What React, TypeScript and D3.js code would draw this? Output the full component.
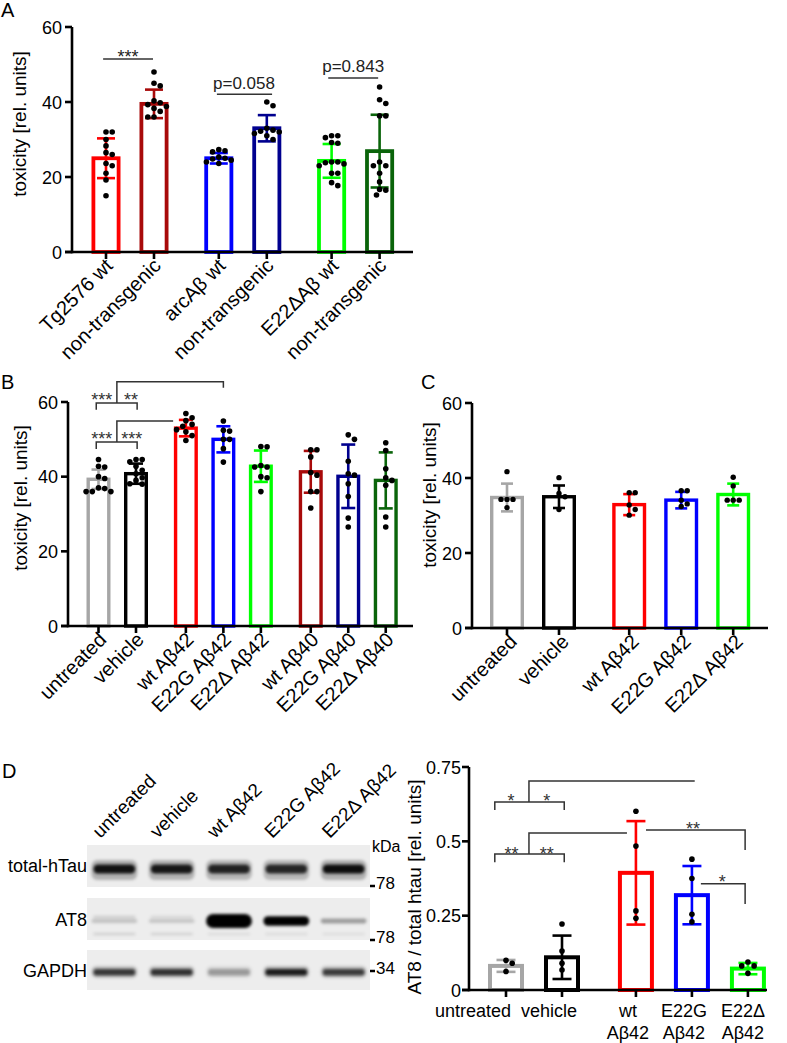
import React from 'react';
import * as d3 from 'd3';

const FONT = "'Liberation Sans', Arial, Helvetica, sans-serif";
const W = 787, H = 1043;

// ---------------- Panel A data ----------------
const catsA = ['Tg2576 wt', 'non-transgenic', 'arcAβ wt', 'non-transgenic', 'E22ΔAβ wt', 'non-transgenic'];
const groupsA = [0, 0, 1, 1, 2, 2];
const colorsA = ['#ff0000', '#a80a0a', '#0000ff', '#00008f', '#00ff00', '#0a640a'];
const meansA = [25.0, 39.5, 25.0, 33.0, 24.3, 26.9];
const sdsA = [5.3, 3.8, 1.4, 3.5, 4.5, 9.7];
const pointsA = [
  [32, 32, 30, 28.3, 26.5, 26, 23.6, 23, 21, 19.2, 15],
  [48, 45, 44.3, 40.3, 39.8, 39.3, 38.8, 38.3, 37.5, 36, 36],
  [27.3, 27, 26.7, 25.3, 25, 24.8, 24.5, 24, 23.6],
  [40, 39, 33, 32.5, 32.2, 32, 31.6, 31, 30],
  [31, 31, 30.5, 29.2, 29, 24, 24, 23.8, 23.5, 23, 21, 21, 18.5, 17.7],
  [44, 40.6, 39.6, 36.3, 36.3, 24, 23, 23, 21, 18.7, 16.7, 16.5, 15.2],
];
const yTicksA = [0, 20, 40, 60];
const sigLinesA = [
  { from: -0.06, to: 0.98, y: 51.5, label: '***', lx: 0.46, ly: 53.1, star: true },
  { from: 2.31, to: 3.46, y: 42.1, label: 'p=0.058', lx: 2.875, ly: 43.5, star: false },
  { from: 4.63, to: 5.67, y: 46.4, label: 'p=0.843', lx: 5.15, ly: 48.0, star: false },
];

// ---------------- Panel B data ----------------
const catsB = ['untreated', 'vehicle', 'wt Aβ42', 'E22G Aβ42', 'E22Δ Aβ42', 'wt Aβ40', 'E22G Aβ40', 'E22Δ Aβ40'];
const groupsB = [0, 0, 1, 1, 1, 2, 2, 2];
const colorsB = ['#a6a6a6', '#000000', '#ff0000', '#0000ff', '#00ff00', '#a80a0a', '#00008f', '#0a640a'];
const meansB = [39.3, 40.8, 53.0, 50.0, 42.8, 41.3, 40.1, 39.0];
const sdsB = [2.6, 2.7, 2.2, 3.5, 4.2, 5.6, 8.5, 7.5];
const pointsB = [
  [44.6, 42.8, 42.6, 40, 39.5, 37, 36.8, 36, 36, 36],
  [44.6, 44.6, 44, 42.8, 41.7, 40.8, 39.7, 39, 38.1, 38],
  [56.9, 55.8, 55, 54, 53.5, 52.6, 52, 51, 49.7],
  [54.9, 52.4, 52.2, 50, 50, 47.5, 43.9],
  [48.1, 48, 43, 42.6, 42.6, 40, 39.7, 36],
  [47.2, 47.2, 45.3, 41.1, 40.4, 36, 36, 31.6],
  [51.2, 50, 44.1, 40.8, 40.4, 38.1, 34.7, 28.9, 26.5],
  [49.1, 47, 42.1, 39.7, 39, 37.7, 29.2, 26.5],
];
const bracketsB: [number, number][][] = [
  [[-0.06, 57.9], [-0.06, 59.7], [1.03, 59.7], [1.03, 57.9]],
  [[0.49, 59.7], [0.49, 65.4], [3.33, 65.4], [3.33, 63.8]],
  [[-0.06, 47.4], [-0.06, 49.3], [1.03, 49.3], [1.03, 47.4]],
  [[0.49, 49.3], [0.49, 54.9], [1.99, 54.9]],
];
const starsB = [
  { x: 0.09, y: 61.6, t: '***' },
  { x: 0.87, y: 61.6, t: '**' },
  { x: 0.09, y: 51.2, t: '***' },
  { x: 0.89, y: 51.2, t: '***' },
];

// ---------------- Panel C data ----------------
const catsC = ['untreated', 'vehicle', 'wt Aβ42', 'E22G Aβ42', 'E22Δ Aβ42'];
const groupsC = [0, 0, 1, 1, 1];
const colorsC = ['#a6a6a6', '#000000', '#ff0000', '#0000ff', '#00ff00'];
const meansC = [34.8, 35.0, 32.9, 34.1, 35.6];
const sdsC = [3.7, 3.0, 2.8, 2.2, 2.9];
const pointsC = [
  [41.7, 34.3, 34.3, 34.3, 32.1],
  [40.1, 35.9, 35, 31.6],
  [36.1, 36.1, 32.8, 31.6, 30.1],
  [36.6, 36.6, 34.1, 33.1, 32.4],
  [40.2, 37.9, 34.1, 34.1, 34.1],
];

// ---------------- Panel D data ----------------
const catsD = ['untreated', 'vehicle', 'wt Aβ42', 'E22G Aβ42', 'E22Δ Aβ42'];
const labelLinesD = [['untreated'], ['vehicle'], ['wt', 'Aβ42'], ['E22G', 'Aβ42'], ['E22Δ', 'Aβ42']];
const groupsD = [0, 0, 1, 1, 1];
const colorsD = ['#a6a6a6', '#000000', '#ff0000', '#0000ff', '#00ff00'];
const meansD = [0.081, 0.11, 0.394, 0.319, 0.072];
const sdsD = [0.02, 0.073, 0.174, 0.098, 0.019];
const pointsD = [
  [0.1, 0.09, 0.062],
  [0.222, 0.131, 0.09, 0.067],
  [0.601, 0.484, 0.266, 0.241],
  [0.44, 0.375, 0.255, 0.229],
  [0.094, 0.081, 0.081, 0.056],
];
const yTicksD = [0, 0.25, 0.5, 0.75];
const bracketsD: [number, number][][] = [
  [[-0.2, 0.605], [-0.2, 0.632], [1.04, 0.632], [1.04, 0.605]],
  [[0.41, 0.632], [0.41, 0.703], [3.37, 0.703]],
  [[-0.2, 0.43], [-0.2, 0.457], [1.04, 0.457], [1.04, 0.43]],
  [[0.41, 0.457], [0.41, 0.528], [2.16, 0.528]],
  [[2.5, 0.538], [4.27, 0.538], [4.27, 0.471]],
  [[3.48, 0.357], [4.27, 0.357], [4.27, 0.289]],
];
const starsD = [
  { x: 0.09, y: 0.649, t: '*' },
  { x: 0.73, y: 0.649, t: '*' },
  { x: 0.1, y: 0.471, t: '**' },
  { x: 0.73, y: 0.471, t: '**' },
  { x: 3.34, y: 0.555, t: '**' },
  { x: 3.86, y: 0.377, t: '*' },
];

// ---------------- Blot data ----------------
const blotLanes = ['untreated', 'vehicle', 'wt Aβ42', 'E22G Aβ42', 'E22Δ Aβ42'];
const blotRows = ['total-hTau', 'AT8', 'GAPDH'];
const tauBand = [0.9, 0.88, 0.82, 0.8, 0.93];
const at8Band = [0.09, 0.08, 1.0, 0.6, 0.17];
const at8Upper = [0.14, 0.1, 0.0, 0.0, 0.0];
const at8Lower = [0.13, 0.12, 0.08, 0.08, 0.07];
const gapdhBand = [0.72, 0.75, 0.3, 0.85, 0.7];
const blotMarkers = ['78', '78', '34'];

// -------------------------------------------------
function swarm(vals: number[], y: (v: number) => number, d: number): number[] {
  const placed: { x: number; y: number }[] = [];
  const order = vals.map((_, i) => i).sort((a, b) => vals[b] - vals[a]);
  const xs = new Array(vals.length).fill(0);
  for (const i of order) {
    const py = y(vals[i]);
    for (let k = 0; k < 60; k++) {
      const off = k === 0 ? 0 : (k % 2 ? 1 : -1) * Math.ceil(k / 2) * d * 0.5;
      if (placed.every(p => Math.hypot(p.x - off, p.y - py) >= d - 0.01)) {
        xs[i] = off;
        placed.push({ x: off, y: py });
        break;
      }
    }
  }
  return xs;
}

type PanelCfg = {
  cats: string[]; groups: number[]; colors: string[]; means: number[]; sds: number[]; points: number[][];
  yMax: number; yTicks: number[];
  axisX: number; xEnd: number; y0: number; yTop: number;
  x0: number; step: number; gap: number;
  barW: number; sw: number; capW: number; dotR: number;
  title: string; titleX: number; titleY: number;
  letter?: string; letterX?: number; letterY?: number;
  labelMode: 'rot' | 'flat';
  ldx?: number; ldy?: number;
  flatLines?: string[][]; flatDx?: number[];
  brackets?: [number, number][][];
  stars?: { x: number; y: number; t: string }[];
  sigLines?: typeof sigLinesA;
  tickLabelGap?: number;
};

function BarPanel({ c }: { c: PanelCfg }) {
  const y = d3.scaleLinear().domain([0, c.yMax]).range([c.y0, c.yTop]);
  const x = d3.scaleLinear().domain([0, 1]).range([c.x0, c.x0 + c.step]);
  const slots = c.cats.map((_, i) => i + c.groups[i] * c.gap);
  const line = d3.line<[number, number]>().x(d => x(d[0])).y(d => y(d[1]));
  const fs = 18;
  return (
    <g>
      {c.letter && <text x={c.letterX} y={c.letterY} fontSize={20}>{c.letter}</text>}
      {c.cats.map((cat, i) => {
        const cx = x(slots[i]);
        const inner = c.barW - c.sw;
        const top = y(c.means[i]);
        const lo = y(c.means[i] - c.sds[i]);
        const hi = y(c.means[i] + c.sds[i]);
        const xs = swarm(c.points[i], y, c.dotR * 2 + 0.6);
        return (
          <g key={i}>
            <rect x={cx - inner / 2} y={top} width={inner} height={c.y0 - top} fill="#fff" stroke={c.colors[i]} strokeWidth={c.sw} />
            <g stroke={c.colors[i]} strokeWidth={2.6}>
              <line x1={cx} x2={cx} y1={hi} y2={lo} />
              <line x1={cx - c.capW / 2} x2={cx + c.capW / 2} y1={hi} y2={hi} />
              <line x1={cx - c.capW / 2} x2={cx + c.capW / 2} y1={lo} y2={lo} />
            </g>
            {c.points[i].map((v, j) => (
              <circle key={j} cx={cx + xs[j]} cy={y(v)} r={c.dotR} fill="#000" />
            ))}
          </g>
        );
      })}
      <g stroke="#000" strokeWidth={2.6}>
        <line x1={c.axisX} x2={c.axisX} y1={c.y0 + 1.3} y2={y(c.yMax)} />
        <line x1={c.axisX - 7} x2={c.xEnd} y1={c.y0} y2={c.y0} />
        {c.yTicks.map(t => (
          <line key={t} x1={c.axisX - 7} x2={c.axisX} y1={y(t)} y2={y(t)} />
        ))}
        {c.cats.map((_, i) => (
          <line key={i} x1={x(slots[i])} x2={x(slots[i])} y1={c.y0} y2={c.y0 + 7} />
        ))}
      </g>
      {c.yTicks.map(t => (
        <text key={t} x={c.axisX - (c.tickLabelGap ?? 10)} y={y(t) + 6.5} fontSize={fs} textAnchor="end">{String(t)}</text>
      ))}
      <text transform={`translate(${c.titleX},${c.titleY}) rotate(-90)`} fontSize={19} textAnchor="middle">{c.title}</text>
      {c.labelMode === 'rot'
        ? c.cats.map((cat, i) => (
            <text key={i} transform={`translate(${x(slots[i]) + (c.ldx ?? 8)},${c.y0 + (c.ldy ?? 16)}) rotate(-45)`} fontSize={20} textAnchor="end">{cat}</text>
          ))
        : c.flatLines!.map((lines, i) => (
            <text key={i} x={x(slots[i]) + (c.flatDx ? c.flatDx[i] : 0)} y={c.y0 + 27} fontSize={fs} textAnchor="middle">
              {lines.map((l, k) => (
                <tspan key={k} x={x(slots[i]) + (c.flatDx ? c.flatDx[i] : 0)} dy={k === 0 ? 0 : 22}>{l}</tspan>
              ))}
            </text>
          ))}
      {c.brackets && c.brackets.map((b, i) => (
        <path key={i} d={line(b) || ''} fill="none" stroke="#333" strokeWidth={1.5} />
      ))}
      {c.stars && c.stars.map((s, i) => (
        <text key={i} x={x(s.x)} y={y(s.y) + 10} fontSize={18} textAnchor="middle" fill="#333">{s.t}</text>
      ))}
      {c.sigLines && c.sigLines.map((s, i) => (
        <g key={i}>
          <line x1={x(s.from)} x2={x(s.to)} y1={y(s.y)} y2={y(s.y)} stroke="#333" strokeWidth={1.5} />
          <text x={x(s.lx)} y={s.star ? y(s.ly) + 10 : y(s.ly)} fontSize={s.star ? 18 : 17} textAnchor="middle" fill="#222">{s.label}</text>
        </g>
      ))}
    </g>
  );
}

function Blot() {
  const lx = d3.scaleBand().domain(blotLanes).range([88, 370]).paddingInner(0.2).paddingOuter(0.06);
  const strips = [
    { y: 845, h: 42 },
    { y: 898, h: 42 },
    { y: 950, h: 40 },
  ];
  const rowBase = [872, 926, 977];
  const markerY = [889, 943, 974];
  return (
    <g>
      <text x={2} y={778} fontSize={20}>D</text>
      {strips.map((s, i) => (
        <rect key={i} x={87} y={s.y} width={283} height={s.h} fill="#ededed" />
      ))}
      <g filter="url(#blur)">
        {blotLanes.map((ln, i) => {
          const bx = lx(ln)!;
          const bw = lx.bandwidth();
          const a = at8Band[i];
          const th = 3 + 11 * a;
          return (
            <g key={ln}>
              <rect x={bx} y={860} width={bw} height={20} rx={6} fill="#000" opacity={tauBand[i] * 0.28} />
              <rect x={bx + 2} y={864.5} width={bw - 4} height={9} rx={4.5} fill="#000" opacity={tauBand[i]} />
              <rect x={bx + 2} y={917 - 1.2} width={bw - 4} height={2.4} fill="#000" opacity={at8Upper[i]} />
              <rect x={bx} y={921 - th / 2} width={bw} height={th} rx={th / 2} fill="#000" opacity={Math.min(1, a * 2)} />
              <rect x={bx + 2} y={934 - 1.2} width={bw - 4} height={2.4} fill="#000" opacity={at8Lower[i]} />
              <rect x={bx} y={966} width={bw} height={12} rx={5} fill="#000" opacity={gapdhBand[i] * 0.25} />
              <rect x={bx + 2} y={969} width={bw - 4} height={6.5} rx={3} fill="#000" opacity={gapdhBand[i]} />
            </g>
          );
        })}
      </g>
      {blotLanes.map(ln => (
        <text key={ln} transform={`translate(${lx(ln)! + lx.bandwidth() / 2 - 14},839) rotate(-45)`} fontSize={19}>{ln}</text>
      ))}
      {blotRows.map((r, i) => (
        <text key={r} x={87} y={rowBase[i]} fontSize={18} textAnchor="end">{r}</text>
      ))}
      <text x={372} y={852} fontSize={16}>kDa</text>
      {blotMarkers.map((m, i) => (
        <g key={i}>
          <line x1={370} x2={375} y1={markerY[i] - 3} y2={markerY[i] - 3} stroke="#000" strokeWidth={2.5} />
          <text x={376} y={markerY[i]} fontSize={17}>{m}</text>
        </g>
      ))}
    </g>
  );
}

export default function App() {
  const cfgA: PanelCfg = {
    cats: catsA, groups: groupsA, colors: colorsA, means: meansA, sds: sdsA, points: pointsA,
    yMax: 60, yTicks: yTicksA, axisX: 72, xEnd: 413, y0: 252, yTop: 27,
    x0: 106, step: 48, gap: 0.35, barW: 29, sw: 3.8, capW: 18, dotR: 2.8,
    title: 'toxicity [rel. units]', titleX: 26, titleY: 124,
    letter: 'A', letterX: 1, letterY: 17, labelMode: 'rot', ldx: 8, ldy: 15,
    sigLines: sigLinesA,
  };
  const cfgB: PanelCfg = {
    cats: catsB, groups: groupsB, colors: colorsB, means: meansB, sds: sdsB, points: pointsB,
    yMax: 60, yTicks: yTicksA, axisX: 68, xEnd: 413, y0: 626, yTop: 402,
    x0: 98.5, step: 37.5, gap: 0.33, barW: 24, sw: 3.4, capW: 14, dotR: 2.8,
    title: 'toxicity [rel. units]', titleX: 27, titleY: 498,
    letter: 'B', letterX: 1, letterY: 389, labelMode: 'rot', ldx: 9, ldy: 15,
    brackets: bracketsB, stars: starsB,
  };
  const cfgC: PanelCfg = {
    cats: catsC, groups: groupsC, colors: colorsC, means: meansC, sds: sdsC, points: pointsC,
    yMax: 60, yTicks: yTicksA, axisX: 472, xEnd: 768, y0: 628, yTop: 403,
    x0: 507, step: 52, gap: 0.35, barW: 34, sw: 3.4, capW: 12, dotR: 2.7,
    title: 'toxicity [rel. units]', titleX: 436, titleY: 495,
    letter: 'C', letterX: 421, letterY: 389, labelMode: 'rot', ldx: 11, ldy: 15,
  };
  const cfgD: PanelCfg = {
    cats: catsD, groups: groupsD, colors: colorsD, means: meansD, sds: sdsD, points: pointsD,
    yMax: 0.75, yTicks: yTicksD, axisX: 469, xEnd: 767, y0: 990, yTop: 767,
    x0: 506, step: 56, gap: 0.32, barW: 36, sw: 4, capW: 19, dotR: 2.8,
    title: 'AT8 / total htau [rel. units]', titleX: 421, titleY: 887,
    labelMode: 'flat', flatLines: labelLinesD, flatDx: [-33, -13, -8, -8, -5],
    brackets: bracketsD, stars: starsD, tickLabelGap: 8,
  };
  return (
    <svg width={W} height={H} viewBox={`0 0 ${W} ${H}`} style={{ position: 'absolute', left: 0, top: 0, background: '#fff' }} fontFamily={FONT}>
      <defs>
        <filter id="blur" x="-20%" y="-20%" width="140%" height="140%">
          <feGaussianBlur stdDeviation="1.5" />
        </filter>
      </defs>
      <rect width={W} height={H} fill="#fff" />
      <BarPanel c={cfgA} />
      <BarPanel c={cfgB} />
      <BarPanel c={cfgC} />
      <BarPanel c={cfgD} />
      <Blot />
    </svg>
  );
}
